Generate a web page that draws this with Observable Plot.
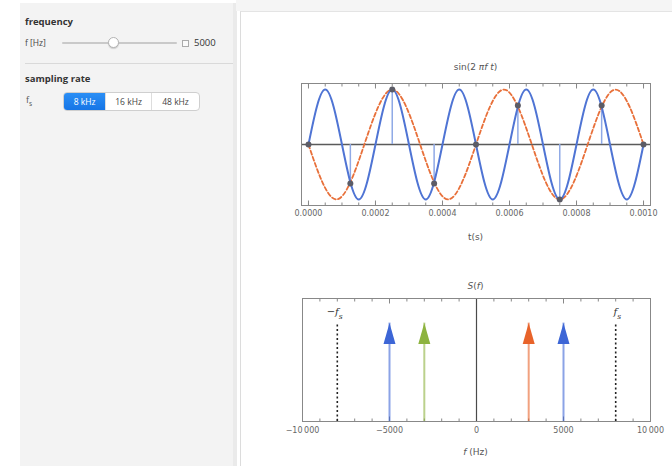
<!DOCTYPE html>
<html><head><meta charset="utf-8">
<script src="https://cdn.jsdelivr.net/npm/d3@7"></script>
<script src="https://cdn.jsdelivr.net/npm/@observablehq/plot@0.6"></script>
<style>
body{margin:0;width:672px;height:466px;position:relative;overflow:hidden;background:#fff;font-family:"Open Sans",sans-serif;}
.abs{position:absolute;}
.bold{font-weight:700;font-size:9.5px;color:#333;line-height:12px;}
.lbl{font-size:9px;color:#555;line-height:12px;text-align:center;font-family:"DejaVu Sans",sans-serif;}
.btns{display:flex;border:1px solid #cfcfcf;border-radius:4px;background:#fff;overflow:hidden;box-sizing:border-box;}
.btns div{font-size:8.5px;color:#444;text-align:center;line-height:17px;border-left:1px solid #ddd;}
.btns div.on{background:linear-gradient(#2b8ff5,#1675e6);color:#fff;border-left:none;}
</style></head>
<body>
<!-- control panel -->
<div class="abs" style="left:20px;top:3px;width:213px;height:463px;background:#f3f3f3"></div>
<div class="abs" style="left:233px;top:3px;width:4px;height:463px;background:#eaeaea"></div>
<div class="abs" style="left:236px;top:0;width:436px;height:11px;background:#f5f5f5"></div>
<div class="abs" style="left:240px;top:11px;width:432px;height:455px;background:#fff;border-left:1px solid #dcdcdc;border-top:1px solid #e4e4e4;box-sizing:border-box"></div>

<div class="abs bold" style="left:25px;top:16px">frequency</div>
<div class="abs" style="left:25px;top:37px;font-size:8.5px;color:#444;line-height:12px">f [Hz]</div>
<div class="abs" style="left:62px;top:42px;width:115px;height:2px;background:#c9c9c9;border-radius:1px"></div>
<div class="abs" style="left:108px;top:37px;width:11px;height:11px;border-radius:50%;background:#fff;border:1px solid #b3b3b3;box-sizing:border-box;box-shadow:0 1px 1px rgba(0,0,0,0.15)"></div>
<div class="abs" style="left:182px;top:40px;width:5px;height:5px;border:1px solid #aaa;background:#fafafa"></div>
<div class="abs" style="left:194px;top:37px;font-size:9.5px;color:#333;line-height:12px">5000</div>
<div class="abs" style="left:25px;top:63px;width:208px;height:1px;background:#d9d9d9"></div>
<div class="abs bold" style="left:25px;top:73px">sampling rate</div>
<div class="abs" style="left:26px;top:94px;font-size:9px;color:#555;line-height:12px">f<sub style="font-size:6.5px">s</sub></div>
<div class="abs btns" style="left:63px;top:92px;width:137px;height:19px">
  <div class="on" style="width:42px">8 kHz</div>
  <div style="width:46px">16 kHz</div>
  <div style="width:48px">48 kHz</div>
</div>

<!-- titles and labels -->
<div class="abs lbl" style="left:301px;width:349px;top:61px">sin(2 <i>πf t</i>)</div>
<div class="abs lbl" style="left:301px;width:349px;top:231px">t(s)</div>
<div class="abs lbl" style="left:301px;width:349px;top:280px"><i>S</i>(<i>f</i>)</div>
<div class="abs lbl" style="left:301px;width:349px;top:446px"><i>f</i> (Hz)</div>

<div id="p1" class="abs" style="left:240px;top:55px"></div>
<div id="p2" class="abs" style="left:240px;top:265px"></div>

<script>
// ---- time-domain data ----
const signalTime = [0,0.00005,0.0001,0.00015,0.0002,0.00025,0.0003,0.00035,0.0004,0.00045,0.0005,0.00055,0.0006,0.00065,0.0007,0.00075,0.0008,0.00085,0.0009,0.00095,0.001];
const signalValue = [0,1,0,-1,0,1,0,-1,0,1,0,-1,0,1,0,-1,0,1,0,-1,0];
const aliasTime = [0,0.0000833,0.0001667,0.00025,0.0003333,0.0004167,0.0005,0.0005833,0.0006667,0.00075,0.0008333,0.0009167,0.001];
const aliasValue = [0,-1,0,1,0,-1,0,1,0,-1,0,1,0];
const sampleTime = [0,0.000125,0.00025,0.000375,0.0005,0.000625,0.00075,0.000875,0.001];
const sampleValue = [0,-0.71,1,-0.71,0,0.71,-1,0.71,0];
const timeTicks = [0,0.0002,0.0004,0.0006,0.0008,0.001];
const timeMinorTicks = [0,0.00005,0.0001,0.00015,0.0002,0.00025,0.0003,0.00035,0.0004,0.00045,0.0005,0.00055,0.0006,0.00065,0.0007,0.00075,0.0008,0.00085,0.0009,0.00095,0.001];

// ---- frequency-domain data ----
const spectrumFreq = [-5000,-3000,3000,5000];
const spectrumAmp = [1,1,1,1];
const spectrumSeries = ["signal −f","alias −","alias +","signal +f"];
const seriesNames = ["signal −f","alias −","alias +","signal +f"];
const seriesColors = ["#3d66d6","#8db33f","#e8632a","#3d66d6"];
const samplingFreq = [-8000,8000];
const samplingLabel = ["−f","f"];
const samplingSub = ["s","s"];
const freqTicks = [-10000,-5000,0,5000,10000];
const freqMinorTicks = [-10000,-9000,-8000,-7000,-6000,-5000,-4000,-3000,-2000,-1000,0,1000,2000,3000,4000,5000,6000,7000,8000,9000,10000];

const signal = signalTime.map((t,i)=>({t, v: signalValue[i]}));
const alias = aliasTime.map((t,i)=>({t, v: aliasValue[i]}));
const samples = sampleTime.map((t,i)=>({t, v: sampleValue[i]}));
const spectrum = spectrumFreq.map((f,i)=>({f, amp: spectrumAmp[i], s: spectrumSeries[i]}));
const fsMarks = samplingFreq.map((f,i)=>({f, label: samplingLabel[i], sub: samplingSub[i], top: 1}));

const blank = () => "";
const styleBase = {fontFamily: "DejaVu Sans, sans-serif", fontSize: "8px", color: "#666", background: "transparent", overflow: "visible"};

// inward-pointing frame ticks (Mathematica style)
const inTicks = (ticks, size, opts = {}) => [
  Plot.axisX(ticks, {tickSize: size, dy: -size, tickFormat: blank, stroke: "#888", label: null}),
  Plot.axisX(ticks, {anchor: "top", tickSize: size, dy: size, tickFormat: blank, stroke: "#888", label: null}),
  ...(opts.format ? [Plot.axisX(ticks, {tickSize: 0, tickPadding: opts.pad, tickFormat: opts.format, label: null})] : [])
];

const p1 = Plot.plot({
  width: 432, height: 195,
  marginLeft: 61, marginRight: 22, marginTop: 28, marginBottom: 45,
  style: styleBase,
  x: {domain: [-0.0000208, 0.0010208], label: null},
  y: {domain: [-1.11, 1.11], axis: null},
  marks: [
    inTicks(timeMinorTicks, 2.5),
    inTicks(timeTicks, 4.5, {format: d => d.toFixed(4), pad: 5}),
    Plot.ruleY([0], {stroke: "#5a5a5a", strokeWidth: 1.5}),
    Plot.ruleX(samples, {x: "t", y1: 0, y2: "v", stroke: "#8fa9e6", strokeWidth: 1.5}),
    Plot.line(alias, {x: "t", y: "v", curve: "natural", stroke: "#e8703a", strokeWidth: 1.8, strokeDasharray: "4,2.5"}),
    Plot.line(signal, {x: "t", y: "v", curve: "natural", stroke: "#4f74d4", strokeWidth: 2}),
    Plot.dot(samples, {x: "t", y: "v", r: 3, fill: "#5c5c66", stroke: "none"}),
    Plot.frame({stroke: "#888"})
  ]
});
document.getElementById("p1").append(p1);

const headSymbol = {draw(ctx) { ctx.moveTo(-6, 21); ctx.lineTo(0, 0); ctx.lineTo(6, 21); ctx.closePath(); }};
const fmtFreq = d => {
  if (d === 0) return "0";
  const s = String(Math.abs(d));
  const body = s.length > 4 ? s.slice(0, -3) + "\u2009" + s.slice(-3) : s;
  return (d < 0 ? "−" : "") + body;
};

const p2 = Plot.plot({
  width: 432, height: 200,
  marginLeft: 62, marginRight: 22, marginTop: 33, marginBottom: 44,
  style: styleBase,
  x: {domain: [-10000, 10000], label: null},
  y: {domain: [0, 1.25], axis: null},
  color: {domain: seriesNames, range: seriesColors},
  marks: [
    inTicks(freqMinorTicks, 2.5),
    inTicks(freqTicks, 4.5, {format: fmtFreq, pad: 6}),
    Plot.ruleX([0], {stroke: "#4a4a4a", strokeWidth: 1.2}),
    Plot.ruleX(fsMarks, {x: "f", y1: 0, y2: "top", stroke: "#222", strokeWidth: 1.6, strokeDasharray: "2,2.5"}),
    Plot.text(fsMarks, {x: "f", y: "top", text: "label", dy: -11, dx: 1.5, textAnchor: "end", fontStyle: "italic", fontSize: 10, fill: "#333", fontFamily: "DejaVu Serif, serif"}),
    Plot.text(fsMarks, {x: "f", y: "top", text: "sub", dy: -7, dx: 1.5, textAnchor: "start", fontStyle: "italic", fontSize: 7.5, fill: "#333", fontFamily: "DejaVu Serif, serif"}),
    Plot.ruleX(spectrum, {x: "f", y1: 0, y2: "amp", stroke: "s", strokeWidth: 2, strokeOpacity: 0.6}),
    Plot.dot(spectrum, {x: "f", y: "amp", symbol: headSymbol, r: 5, fill: "s", stroke: "none"}),
    Plot.frame({stroke: "#888"})
  ]
});
document.getElementById("p2").append(p2);
</script>
</body></html>
